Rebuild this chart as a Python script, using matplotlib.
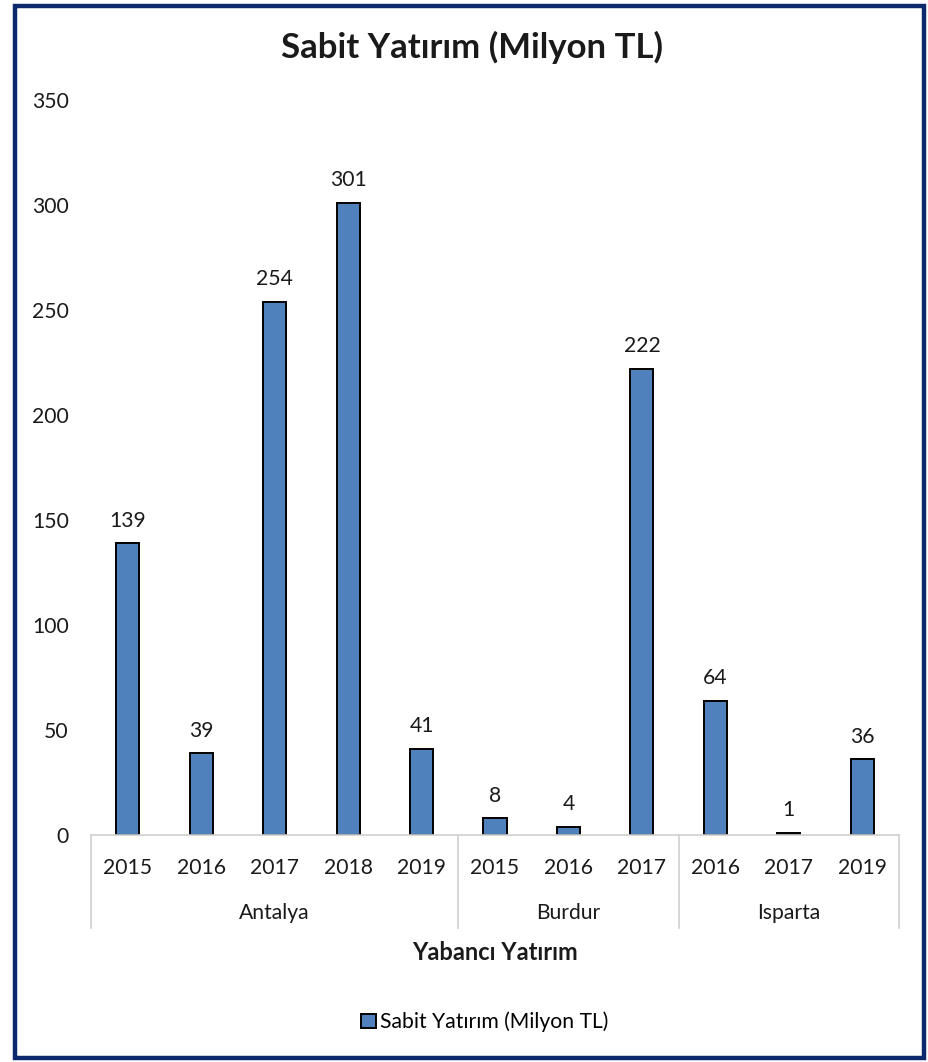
import matplotlib
matplotlib.use("Agg")
import matplotlib.pyplot as plt
from matplotlib.patches import Rectangle
import matplotlib.transforms as mtransforms

plt.rcParams['font.family'] = ['Lato', 'DejaVu Sans']

groups = ["Antalya", "Burdur", "Isparta"]
years = [["2015", "2016", "2017", "2018", "2019"],
         ["2015", "2016", "2017"],
         ["2016", "2017", "2019"]]
values = [139, 39, 254, 301, 41, 8, 4, 222, 64, 1, 36]
series_name = "Sabit Yatırım (Milyon TL)"
title = "Sabit Yatırım (Milyon TL)"
xlabel = "Yabancı Yatırım"
yticks = [0, 50, 100, 150, 200, 250, 300, 350]

FS = 15.2
W, H = 929, 1062
fig = plt.figure(figsize=(W / 100, H / 100), dpi=100)

# border
fig.patches.append(Rectangle((15 / W, 4 / H), (924 - 15) / W, (1056 - 4) / H,
                             transform=fig.transFigure, fill=False,
                             edgecolor="#0c2a6b", linewidth=3.2))

ax = fig.add_axes([91 / W, (H - 835) / H, (899 - 91) / W, 735 / H])
n = len(values)
x = list(range(n))
bars = ax.bar(x, values, width=0.315, color="#4F81BD", edgecolor="black",
              linewidth=1.4, label=series_name)
ax.set_xlim(-0.5, n - 0.5)
ax.set_ylim(0, 350)
ax.set_yticks(yticks)
ax.set_yticklabels([str(t) for t in yticks], fontsize=FS, color="#1a1a1a")
ax.tick_params(axis="y", length=0, pad=16)
ax.tick_params(axis="x", length=0)
ax.set_xticks([])
for s in ["top", "right", "left"]:
    ax.spines[s].set_visible(False)
ax.spines["bottom"].set_color("#d0d0d0")
ax.spines["bottom"].set_linewidth(1.2)

for xi, v in zip(x, values):
    ax.annotate(str(v), (xi, v), xytext=(0, 9), textcoords="offset points",
                ha="center", va="bottom", fontsize=FS, color="#1a1a1a")

trans = mtransforms.blended_transform_factory(ax.transData, ax.transAxes)
px = 1 / 735
idx = 0
bounds = [-0.5]
for g, ys in zip(groups, years):
    start = idx
    for y in ys:
        ax.text(idx, -33 * px, y, transform=trans, ha="center", va="center",
                fontsize=FS, color="#1a1a1a")
        idx += 1
    bounds.append(idx - 0.5)
    ax.text((start + idx - 1) / 2, -78 * px, g, transform=trans, ha="center",
            va="center", fontsize=FS, color="#1a1a1a")
for b in bounds:
    ax.plot([b, b], [0, -93 * px], transform=trans, color="#d0d0d0",
            linewidth=1.2, clip_on=False)

fig.text(0.5 * (91 + 899) / W, 1 - 952 / H, xlabel, ha="center", va="center",
         fontsize=17, fontweight="bold", color="#1a1a1a")
fig.text(472 / W, 1 - 47 / H, title, ha="center", va="center",
         fontsize=25, fontweight="bold", color="#1a1a1a")

leg = fig.legend(handles=[bars], labels=[series_name], loc="center",
                 bbox_to_anchor=(485 / W, 1 - 1022 / H), frameon=False,
                 fontsize=FS, handlelength=0.7, handleheight=0.7,
                 handletextpad=0.2)

fig.savefig("out.png", dpi=100, facecolor="white")
